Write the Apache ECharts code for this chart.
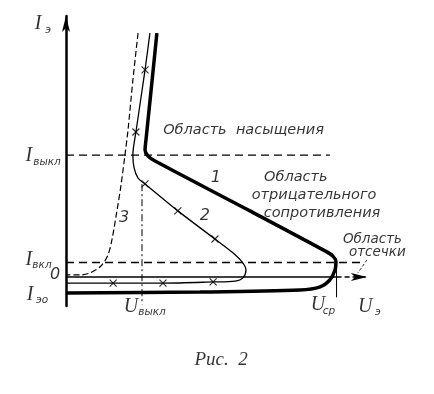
<!DOCTYPE html>
<html><head><meta charset="utf-8">
<script src="https://cdn.jsdelivr.net/npm/echarts@6/dist/echarts.min.js"></script>
<style>html,body{margin:0;padding:0;background:#fff}#c{width:434px;height:394px}</style>
</head><body><div id="c"></div>
<script>
// Curve 1 (thick) : emitter current vs emitter voltage
const curve1U = [29.9, 28.0, 26.3, 26.0, 27.0, 29.3, 60.5, 85.2, 87.8, 88.8, 88.5, 86.8, 83.6, 77.0, 44.1, 0];
const curve1I = [84.1, 64.5, 47.2, 43.8, 41.7, 40.0, 22.8, 9.0, 7.2, 5.2, 2.4, -1.0, -3.4, -4.5, -5.2, -5.5];
// Curve 2 (thin, with crosses)
const curve2U = [27.6, 26.0, 23.0, 22.0, 22.4, 23.7, 26.0, 36.8, 49.0, 54.6, 57.9, 59.2, 58.2, 55.6, 48.4, 31.9, 15.5, 0];
const curve2I = [84.1, 71.4, 50.0, 42.1, 37.6, 34.1, 32.1, 22.8, 13.1, 8.6, 5.2, 2.4, -0.3, -1.4, -1.7, -2.1, -2.1, -2.1];
const marks2U = [26.0, 23.0, 26.0, 36.8, 49.0, 48.4, 31.9, 15.5];
const marks2I = [71.4, 50.0, 32.1, 22.8, 13.1, -1.7, -2.1, -2.1];
// Curve 3 (dashed)
const curve3U = [23.7, 22.0, 20.4, 19.4, 18.1, 16.8, 15.1, 13.8, 11.5, 7.9, 4.6, 0];
const curve3I = [84.1, 67.9, 50.7, 42.1, 31.7, 23.1, 12.8, 7.6, 3.8, 1.4, 0.7, 0.7];
// Reference levels
const iOffLevel = 42;     // I выкл
const iOnLevel = 5;       // I вкл
const uOffLevel = 25;     // U выкл
const uSrLevel = 89;      // U ср
const iOffEnd = 86.8;
const iOnEnd = 98;
const uOffSpan = [32, -9.5];
const uSrSpan = [3, -7];
const axisSolidEnd = 89;
const axisDashEnd = 99;
const pointerU = [99, 96];
const pointerI = [5.9, 1.4];

// Annotations
const labelText = ['I', 'э', 'I', 'выкл', 'I', 'вкл', '0', 'I', 'эо', 'U', 'выкл', 'U', 'ср', 'U', 'э',
  '1', '2', '3', 'Область  насыщения', 'Область', 'отрицательного', 'сопротивления', 'Область', 'отсечки', 'Рис.  2'];
const labelU = [-9.2, -5.9, -12.2, -6.25, -12.2, -7.9, -3.6, -11.8, -7.9, 21.4, 28.3, 82.9, 86.5, 98.4, 102.6,
  49.3, 45.7, 19.1, 58.4, 75.6, 81.6, 84.2, 100.8, 102.4, 51.0];
const labelI = [87.2, 85.2, 41.7, 39.7, 5.9, 4.1, 0.7, -6.2, -7.9, -10.3, -12.1, -9.7, -11.7, -10.3, -12.1,
  34.1, 21.0, 20.3, 50.7, 34.5, 28.3, 22.1, 12.8, 8.3, -28.6];
const labelKind = ['big', 'sub', 'big', 'sub', 'big', 'sub', 'num', 'big', 'sub', 'big', 'sub', 'big', 'sub', 'big', 'sub',
  'num', 'num', 'num', 'txt', 'txt', 'txt', 'txt', 'txt2', 'txt2', 'cap'];

const zip = (a, b) => a.map((v, k) => [v, b[k]]);
const kindStyle = {
  big: { fontFamily: 'Liberation Serif', fontStyle: 'italic', fontSize: 20 },
  sub: { fontFamily: 'DejaVu Sans', fontStyle: 'italic', fontSize: 10.5 },
  num: { fontFamily: 'DejaVu Sans', fontStyle: 'italic', fontSize: 16 },
  txt: { fontFamily: 'DejaVu Sans', fontStyle: 'italic', fontSize: 14.5 },
  txt2: { fontFamily: 'DejaVu Sans', fontStyle: 'italic', fontSize: 13.5 },
  cap: { fontFamily: 'Liberation Serif', fontStyle: 'italic', fontSize: 19 }
};
const labelData = labelText.map((t, k) => ({
  value: [labelU[k], labelI[k]],
  label: Object.assign({ show: true, position: 'inside', color: '#000', formatter: t }, kindStyle[labelKind[k]])
}));

const blk = '#000';
const chart = echarts.init(document.getElementById('c'), null, { renderer: 'canvas' });
chart.setOption({
  backgroundColor: '#fff',
  animation: false,
  grid: { left: 66, top: 16, width: 304, height: 290 },
  xAxis: {
    type: 'value', min: 0, max: 100,
    axisLine: { show: false },
    axisTick: { show: false }, axisLabel: { show: false }, splitLine: { show: false }
  },
  yAxis: {
    type: 'value', min: -10, max: 90,
    axisLine: { show: true, symbol: ['none', 'arrow'], symbolSize: [6, 16], lineStyle: { color: blk, width: 2.5 } },
    axisTick: { show: false }, axisLabel: { show: false }, splitLine: { show: false }
  },
  series: [
    // U axis: solid part, then dashed part ending in an arrow
    { type: 'line', data: zip([0, axisSolidEnd], [0, 0]), symbol: 'none', lineStyle: { color: blk, width: 1.5 } },
    { type: 'line', clip: false, showSymbol: true, itemStyle: { color: blk },
      data: [
        { value: [axisSolidEnd, 0], symbol: 'none' },
        { value: [axisDashEnd, 0], symbol: 'arrow', symbolSize: [6, 16], symbolRotate: -90 }
      ],
      lineStyle: { color: blk, width: 1.5, type: [5, 3] } },
    { type: 'line', data: zip([0, iOffEnd], [iOffLevel, iOffLevel]), symbol: 'none', lineStyle: { color: blk, width: 1.3, type: [8, 5] } },
    { type: 'line', data: zip([0, iOnEnd], [iOnLevel, iOnLevel]), symbol: 'none', lineStyle: { color: blk, width: 1.3, type: [8, 5] } },
    { type: 'line', data: zip([uOffLevel, uOffLevel], uOffSpan), symbol: 'none', lineStyle: { color: blk, width: 1, type: [7, 3, 2, 3] } },
    { type: 'line', data: zip([uSrLevel, uSrLevel], uSrSpan), symbol: 'none', lineStyle: { color: blk, width: 1 } },
    { type: 'line', data: zip(pointerU, pointerI), symbol: 'none', clip: false, lineStyle: { color: blk, width: 0.8, type: [3, 2] } },
    { type: 'line', data: zip(curve3U, curve3I), symbol: 'none', smooth: 0.3, lineStyle: { color: blk, width: 1.2, type: [6, 3] } },
    { type: 'line', data: zip(curve2U, curve2I), symbol: 'none', smooth: 0.3, lineStyle: { color: blk, width: 1.3 } },
    { type: 'scatter', data: zip(marks2U, marks2I), symbol: 'path://M0,0L10,10M10,0L0,10', symbolSize: 7,
      itemStyle: { color: 'none', borderColor: blk, borderWidth: 1.2 } },
    { type: 'line', data: zip(curve1U, curve1I), symbol: 'none', smooth: 0.3, lineStyle: { color: blk, width: 3.5 }, z: 3 },
    { type: 'scatter', data: labelData, symbolSize: 0, clip: false, silent: true, z: 5 }
  ]
});
</script></body></html>
